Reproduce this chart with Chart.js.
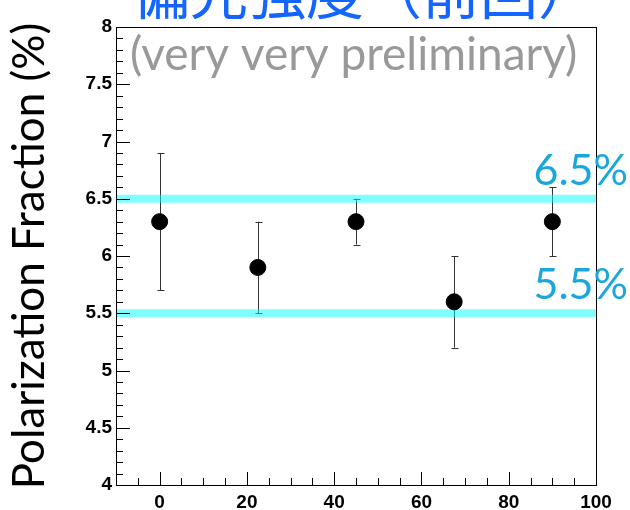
<!DOCTYPE html>
<html>
<head>
<meta charset="utf-8">
<script src="https://cdn.jsdelivr.net/npm/chart.js@4"></script>
<style>
  html, body { margin: 0; padding: 0; background: #fff; }
</style>
</head>
<body>
<canvas id="myChart" width="630" height="510"></canvas>
<script>
// data
var xVals = [0, 22.5, 45, 67.5, 90];
var yVals = [6.3, 5.9, 6.3, 5.6, 6.3];
var yLow  = [5.7, 5.5, 6.1, 5.2, 6.0];
var yHigh = [6.9, 6.3, 6.5, 6.0, 6.6];

var bandLevels = [6.5, 5.5];
var bandLabels = ["6.5%", "5.5%"];
var xRange = [-10, 100];
var yRange = [4, 8];

var titleText = "偏光強度（前回）";
var subTitleText = "(very very preliminary)";
var yTitleText = "Polarization Fraction (%)";

var points = xVals.map(function (x, i) { return { x: x, y: yVals[i] }; });

function bandData(level) {
    return [{ x: xRange[0], y: level }, { x: xRange[1], y: level }];
}

// error bars, drawn under the markers and the bands
var errorBars = {
    id: 'errorBars',
    beforeDatasetsDraw: function (chart) {
        var ctx = chart.ctx, xs = chart.scales.x, ys = chart.scales.y;
        ctx.save();
        ctx.strokeStyle = '#333';
        ctx.lineWidth = 1;
        for (var i = 0; i < xVals.length; i++) {
            var px = Math.round(xs.getPixelForValue(xVals[i])) + 0.5;
            var top = ys.getPixelForValue(yHigh[i]);
            var bot = ys.getPixelForValue(yLow[i]);
            ctx.beginPath();
            ctx.moveTo(px, top); ctx.lineTo(px, bot);
            ctx.moveTo(px - 3, Math.round(top) + 0.5); ctx.lineTo(px + 4, Math.round(top) + 0.5);
            ctx.moveTo(px - 3, Math.round(bot) + 0.5); ctx.lineTo(px + 4, Math.round(bot) + 0.5);
            ctx.stroke();
        }
        ctx.restore();
    }
};

// ROOT style frame, inward ticks and the texts around it
var frameAndText = {
    id: 'frameAndText',
    afterDraw: function (chart) {
        var ctx = chart.ctx, a = chart.chartArea;
        var xs = chart.scales.x, ys = chart.scales.y;
        ctx.save();
        ctx.strokeStyle = '#000';
        ctx.lineWidth = 1;
        ctx.strokeRect(Math.round(a.left) + 0.5, Math.round(a.top) + 0.5,
            Math.round(a.right - a.left), Math.round(a.bottom - a.top));

        ctx.beginPath();
        ys.ticks.forEach(function (t) {
            var py = Math.round(ys.getPixelForValue(t.value)) + 0.5;
            var major = Math.abs(t.value * 2 - Math.round(t.value * 2)) < 1e-6;
            ctx.moveTo(a.left, py);
            ctx.lineTo(a.left + (major ? 14 : 7), py);
        });
        xs.ticks.forEach(function (t) {
            var px = Math.round(xs.getPixelForValue(t.value)) + 0.5;
            var major = Math.abs(t.value % 20) < 1e-6;
            ctx.moveTo(px, a.bottom);
            ctx.lineTo(px, a.bottom - (major ? 13 : 7));
        });
        ctx.stroke();

        ctx.textAlign = 'left';
        ctx.textBaseline = 'alphabetic';
        ctx.fillStyle = '#1464ff';
        ctx.font = '58px "Noto Sans CJK JP"';
        ctx.fillText(titleText, 132, 14);

        ctx.fillStyle = '#999';
        ctx.font = '46px Lato';
        ctx.fillText(subTitleText, 130, 70);

        ctx.textAlign = 'right';
        ctx.fillStyle = '#1ba6dc';
        ctx.font = '43px Lato';
        bandLevels.forEach(function (lv, i) {
            var py = ys.getPixelForValue(lv);
            ctx.fillText(bandLabels[i], 628, py - 14);
        });
        ctx.restore();
    }
};

var tickFont = { family: '"Liberation Sans"', size: 19, weight: 'bold' };

var myChart = new Chart(document.getElementById("myChart"), {
    type: 'scatter',
    data: {
        datasets: [
            {
                data: points,
                backgroundColor: '#000',
                borderColor: '#000',
                pointRadius: 8,
                pointHoverRadius: 8,
                order: 1
            },
            {
                type: 'line',
                data: bandData(bandLevels[0]),
                borderColor: 'rgba(0, 255, 255, 0.5)',
                borderWidth: 8,
                pointRadius: 0,
                order: 2
            },
            {
                type: 'line',
                data: bandData(bandLevels[1]),
                borderColor: 'rgba(0, 255, 255, 0.5)',
                borderWidth: 8,
                pointRadius: 0,
                order: 2
            }
        ]
    },
    options: {
        responsive: false,
        animation: false,
        layout: { padding: { top: 27, right: 34, left: 0, bottom: 0 } },
        plugins: { legend: { display: false }, tooltip: { enabled: false } },
        scales: {
            x: {
                type: 'linear',
                min: xRange[0],
                max: xRange[1],
                grid: { display: false, drawTicks: false },
                border: { display: false },
                ticks: {
                    stepSize: 5,
                    autoSkip: false,
                    maxRotation: 0,
                    padding: 6,
                    color: '#000',
                    font: tickFont,
                    callback: function (v) { return Math.abs(v % 20) < 1e-6 ? String(v) : ''; }
                },
                afterFit: function (s) { s.height = 25; }
            },
            y: {
                min: yRange[0],
                max: yRange[1],
                grid: { display: false, drawTicks: false },
                border: { display: false },
                ticks: {
                    stepSize: 0.1,
                    autoSkip: false,
                    padding: 4,
                    color: '#000',
                    font: tickFont,
                    callback: function (v) {
                        return Math.abs(v * 2 - Math.round(v * 2)) < 1e-6 ? String(Number(v.toFixed(1))) : '';
                    }
                },
                title: {
                    display: true,
                    text: yTitleText,
                    color: '#000',
                    font: { family: 'Lato', size: 44 },
                    padding: { top: 3, bottom: 0 }
                },
                afterFit: function (s) { s.width = 116; }
            }
        }
    },
    plugins: [errorBars, frameAndText]
});
</script>
</body>
</html>
